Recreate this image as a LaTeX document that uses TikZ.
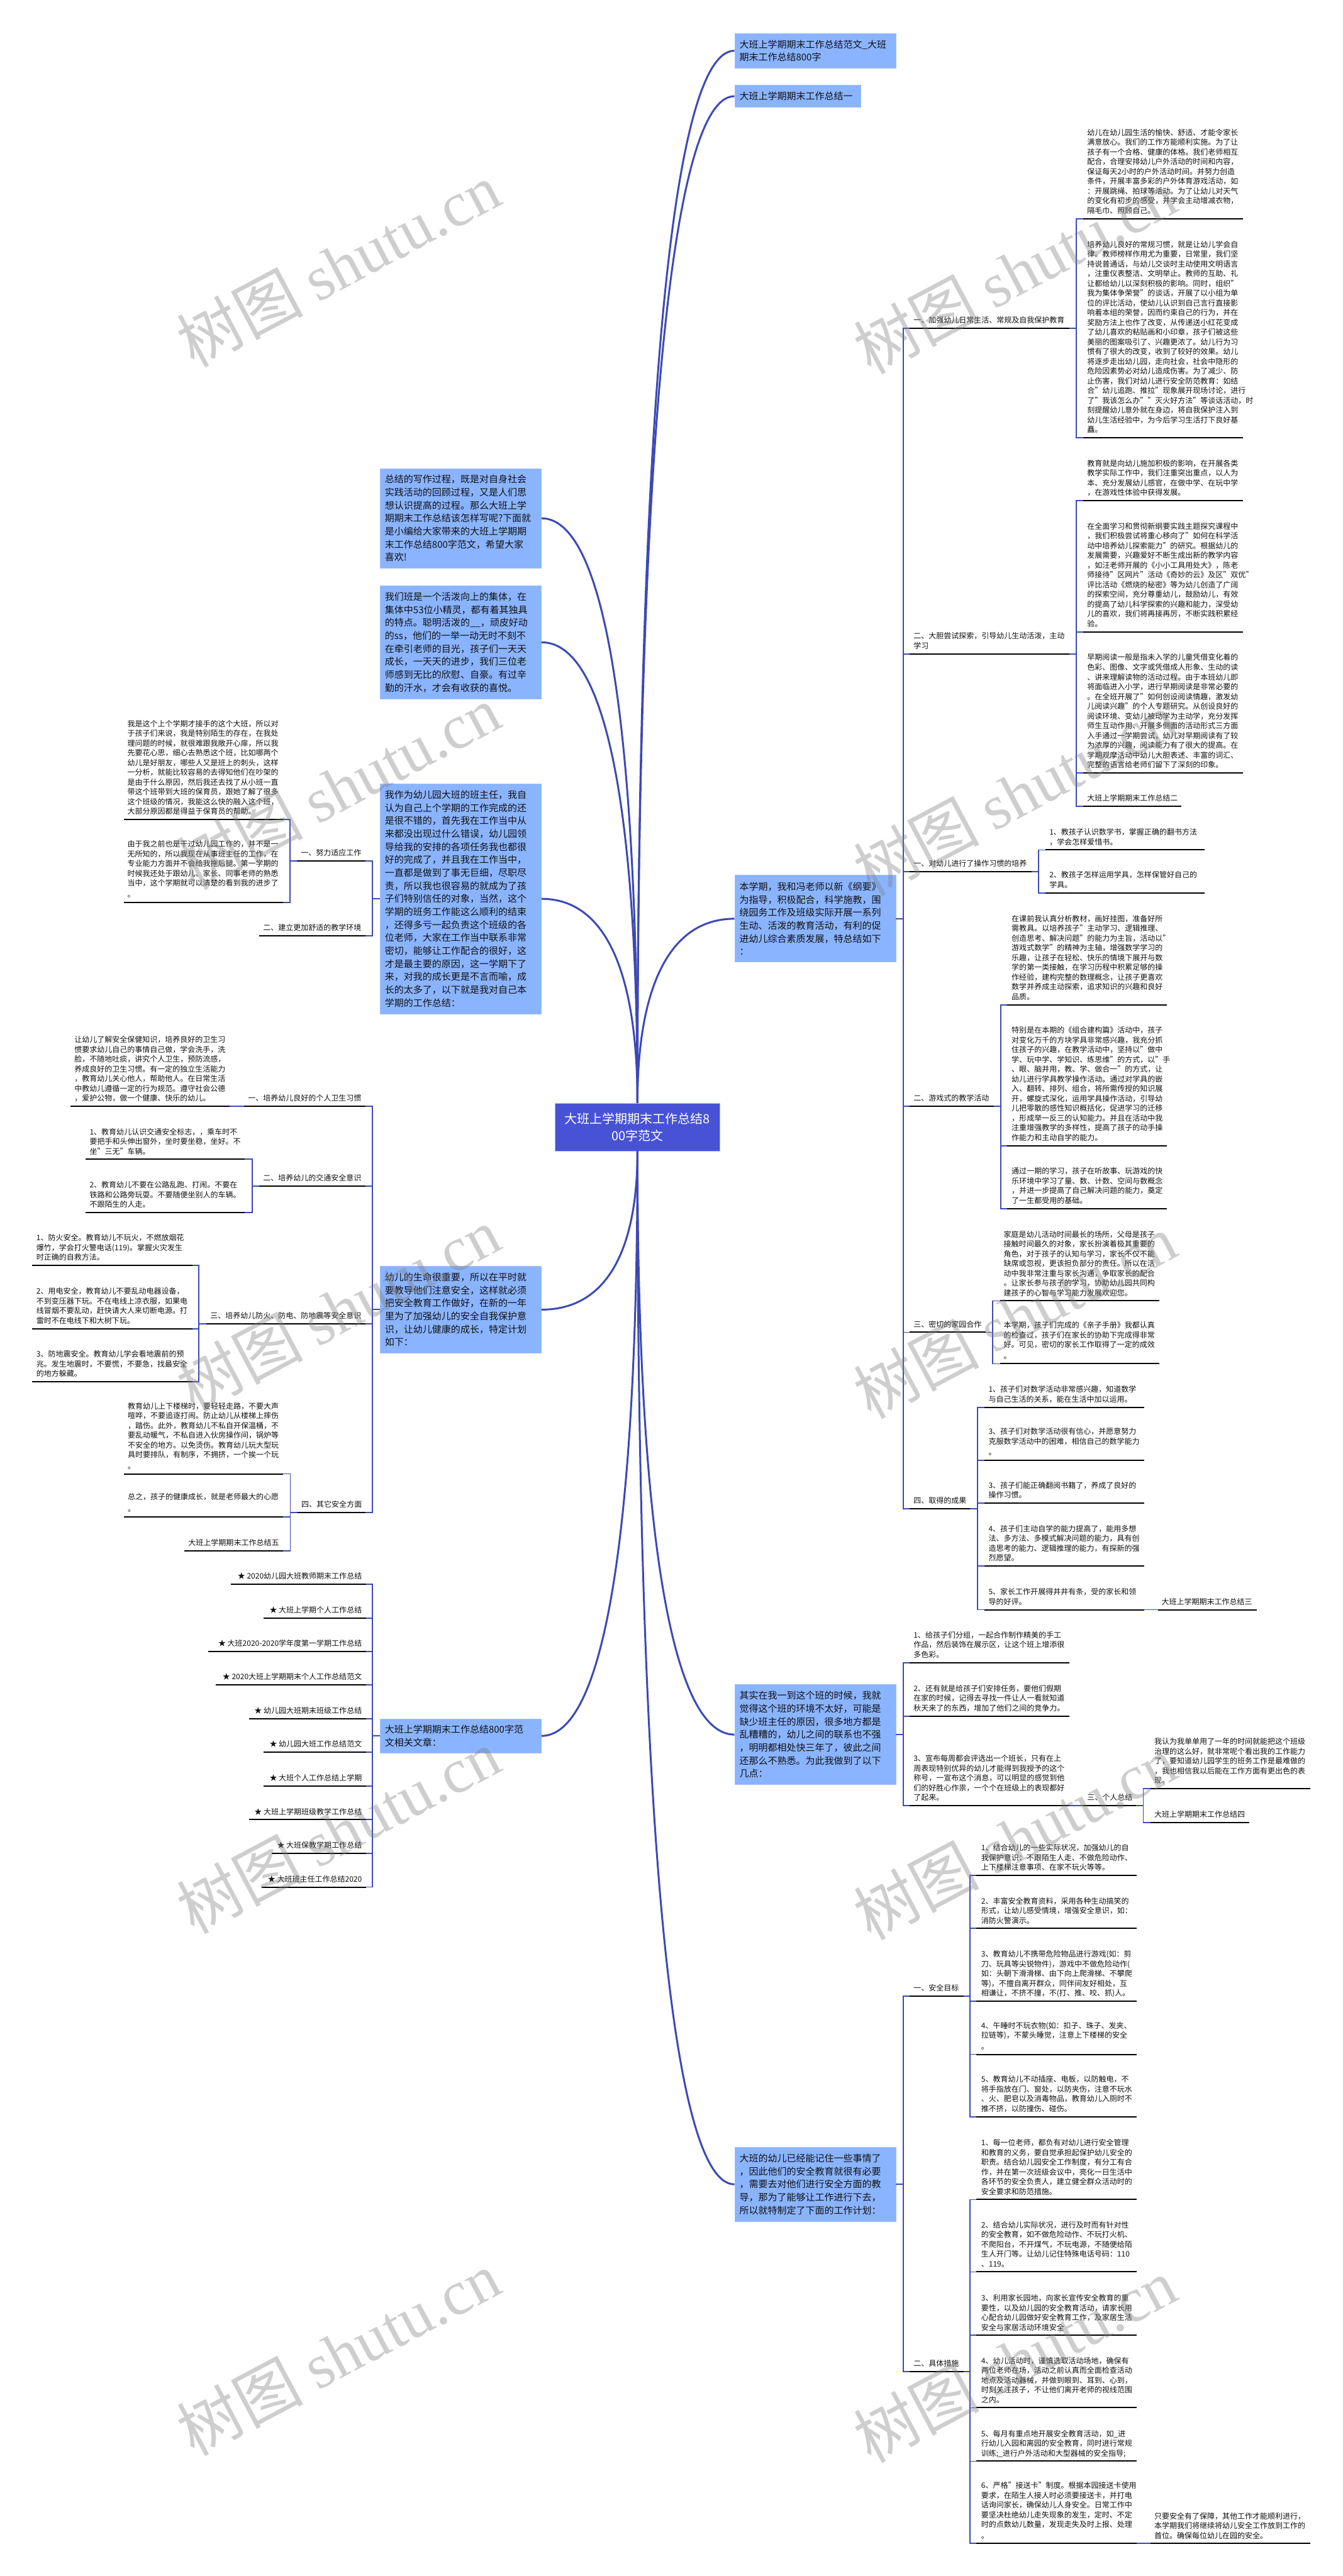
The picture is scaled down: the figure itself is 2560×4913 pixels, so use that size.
\documentclass[tikz,border=0pt]{standalone}
\usepackage{fontspec}
\setmainfont{Noto Sans CJK SC}
\newfontfamily\wmlat{Liberation Serif}
\definecolor{wireblue}{HTML}{3C49B5}
\definecolor{boxblue}{HTML}{8AB4FF}
\definecolor{boxedge}{HTML}{9DBFFA}
\definecolor{rootblue}{HTML}{4752D6}
\definecolor{inkc}{HTML}{111111}
\tikzset{
  leaf/.style={inner sep=0pt,outer sep=0pt,align=left,yshift=2.2pt,text=inkc,
    font=\fontsize{7.2pt}{9.3pt}\selectfont,execute at end node={\strut}},
  leafr/.style={leaf,align=right},
  rulel/.style={draw=black,line width=1.2pt},
  wire/.style={draw=wireblue,line width=1.1pt},
  curv/.style={draw=wireblue,line width=1.8pt},
  boxn/.style={draw=boxedge,line width=.5pt,fill=boxblue,text=inkc,anchor=north west,inner xsep=4.5pt,inner ysep=0pt,
    text width=144.5pt,align=left,font=\fontsize{9pt}{12.4pt}\selectfont},
  rootn/.style={draw=boxedge,line width=.5pt,fill=rootblue,text=white,inner sep=0pt,align=center,
    minimum width=157.5pt,minimum height=45.5pt,font=\fontsize{12pt}{16.5pt}\selectfont},
  wm/.style={text=gray,opacity=.38,rotate=28,inner sep=0pt,font=\fontsize{60pt}{60pt}\selectfont}
}
% name, xleft, xright, y of underline, x of text, text
\newcommand\MItem[6]{%
  \coordinate (#1-l) at (#2,#4);
  \coordinate (#1-r) at (#3,#4);
  \node[leaf,anchor=south west] (#1) at (#5,#4) {#6};
  \draw[rulel] (#1-l) -- (#1-r);
}
\newcommand\MItemR[6]{%
  \coordinate (#1-l) at (#2,#4);
  \coordinate (#1-r) at (#3,#4);
  \node[leafr,anchor=south east] (#1) at (#5,#4) {#6};
  \draw[rulel] (#1-l) -- (#1-r);
}
\begin{document}
\begin{tikzpicture}[x=.5pt,y=-.5pt]
\useasboundingbox[fill=white] (0,0) rectangle (2560,4913);

\node[rootn] (root) at (1215.5,2149.5) {大班上学期期末工作总结8\\00字范文};

\node[boxn,minimum height=33.25pt] (t1) at (1400.5,63) {大班上学期期末工作总结范文\_大班\\期末工作总结800字};
\node[boxn,minimum height=21pt,text width=111pt] (t2) at (1400.5,162) {大班上学期期末工作总结一};
\node[boxn,minimum height=82.75pt] (bA) at (1400.5,1669) {本学期，我和冯老师以新《纲要》\\为指导，积极配合，科学施教，围\\绕园务工作及班级实际开展一系列\\生动、活泼的教育活动，有利的促\\进幼儿综合素质发展，特总结如下\\：};
\node[boxn,minimum height=95.25pt] (bB) at (1400.5,3212.5) {其实在我一到这个班的时候，我就\\觉得这个班的环境不太好，可能是\\缺少班主任的原因，很多地方都是\\乱糟糟的，幼儿之间的联系也不强\\，明明都相处快三年了，彼此之间\\还那么不熟悉。为此我做到了以下\\几点：};
\node[boxn,minimum height=70.5pt] (bC) at (1400.5,4095) {大班的幼儿已经能记住一些事情了\\，因此他们的安全教育就很有必要\\，需要去对他们进行安全方面的教\\导，那为了能够让工作进行下去，\\所以就特制定了下面的工作计划：};

\node[boxn,minimum height=95pt] (la) at (724.5,893) {总结的写作过程，既是对自身社会\\实践活动的回顾过程，又是人们思\\想认识提高的过程。那么大班上学\\期期末工作总结该怎样写呢?下面就\\是小编给大家带来的大班上学期期\\末工作总结800字范文，希望大家\\喜欢!};
\node[boxn,minimum height=107.5pt] (lb) at (724.5,1117) {我们班是一个活泼向上的集体，在\\集体中53位小精灵，都有着其独具\\的特点。聪明活泼的\_\_，顽皮好动\\的ss，他们的一举一动无时不刻不\\在牵引老师的目光，孩子们一天天\\成长，一天天的进步，我们三位老\\师感到无比的欣慰、自豪。有过辛\\勤的汗水，才会有收获的喜悦。};
\node[boxn,minimum height=219.75pt] (bD) at (724.5,1494) {我作为幼儿园大班的班主任，我自\\认为自己上个学期的工作完成的还\\是很不错的，首先我在工作当中从\\来都没出现过什么错误，幼儿园领\\导给我的安排的各项任务我也都很\\好的完成了，并且我在工作当中，\\一直都是做到了事无巨细，尽职尽\\责，所以我也很容易的就成为了孩\\子们特别信任的对象，当然，这个\\学期的班务工作能这么顺利的结束\\，还得多亏一起负责这个班级的各\\位老师，大家在工作当中联系非常\\密切，能够让工作配合的很好，这\\才是最主要的原因，这一学期下了\\来，对我的成长更是不言而喻，成\\长的太多了，以下就是我对自己本\\学期的工作总结：};
\node[boxn,minimum height=82.75pt] (bE) at (724.5,2414.5) {幼儿的生命很重要，所以在平时就\\要教导他们注意安全，这样就必须\\把安全教育工作做好，在新的一年\\里为了加强幼儿的安全自我保护意\\识，让幼儿健康的成长，特定计划\\如下：};
\node[boxn,minimum height=32.75pt] (bF) at (724.5,3277.5) {大班上学期期末工作总结800字范\\文相关文章：};

% ---------- right: bA
\MItem{ra1}{1734}{2039}{626}{1742}{一、加强幼儿日常生活、常规及自我保护教育}
\MItem{a1}{2066}{2370}{417}{2073}{幼儿在幼儿园生活的愉快、舒适、才能令家长\\满意放心。我们的工作方能顺利实施。为了让\\孩子有一个合格、健康的体格。我们老师相互\\配合，合理安排幼儿户外活动的时间和内容，\\保证每天2小时的户外活动时间。并努力创造\\条件，开展丰富多彩的户外体育游戏活动，如\\：开展跳绳、拍球等活动。为了让幼儿对天气\\的变化有初步的感受，并学会主动增减衣物，\\隔毛巾、照顾自己。}
\MItem{a2}{2066}{2370}{835}{2073}{培养幼儿良好的常规习惯，就是让幼儿学会自\\律。教师榜样作用尤为重要，日常里，我们坚\\持说普通话，与幼儿交谈时主动使用文明语言\\，注重仪表整洁、文明举止。教师的互助、礼\\让都给幼儿以深刻积极的影响。同时，组织"\\我为集体争荣誉"的谈话，开展了以小组为单\\位的评比活动，使幼儿认识到自己言行直接影\\响着本组的荣誉，因而约束自己的行为，并在\\奖励方法上也作了改变，从传递送小红花变成\\了幼儿喜欢的粘贴画和小印章，孩子们被这些\\美丽的图案吸引了、兴趣更浓了。幼儿行为习\\惯有了很大的改变，收到了较好的效果。幼儿\\将逐步走出幼儿园，走向社会，社会中隐形的\\危险因素势必对幼儿造成伤害。为了减少、防\\止伤害，我们对幼儿进行安全防范教育：如结\\合"幼儿追跑、推拉"现象展开现场讨论，进行\\了"我该怎么办""灭火好方法"等谈话活动，时\\刻提醒幼儿意外就在身边，将自我保护注入到\\幼儿生活经验中，为今后学习生活打下良好基\\矗。}
\MItem{ra2}{1734}{2039}{1247}{1742}{二、大胆尝试探索，引导幼儿生动活泼，主动\\学习}
\MItem{a3}{2066}{2370}{955}{2073}{教育就是向幼儿施加积极的影响，在开展各类\\教学实际工作中，我们注重突出重点，以人为\\本、充分发展幼儿感官，在做中学、在玩中学\\，在游戏性体验中获得发展。}
\MItem{a4}{2066}{2370}{1205}{2073}{在全面学习和贯彻新纲要实践主题探究课程中\\，我们积极尝试将重心移向了"如何在科学活\\动中培养幼儿探索能力"的研究。根据幼儿的\\发展需要，兴趣爱好不断生成出新的教学内容\\，如汪老师开展的《小小工具用处大》，陈老\\师接待"区网片"活动《奇妙的云》及区"双优"\\评比活动《燃烧的秘密》等为幼儿创造了广阔\\的探索空间，充分尊重幼儿，鼓励幼儿，有效\\的提高了幼儿科学探索的兴趣和能力，深受幼\\儿的喜欢，我们将再接再厉，不断实践积累经\\验。}
\MItem{a5}{2066}{2370}{1474}{2073}{早期阅读一般是指未入学的儿童凭借变化着的\\色彩、图像、文字或凭借成人形象、生动的读\\、讲来理解读物的活动过程。由于本班幼儿即\\将面临进入小学，进行早期阅读是非常必要的\\。在全班开展了"如何创设阅读情趣，激发幼\\儿阅读兴趣"的个人专题研究。从创设良好的\\阅读环境、变幼儿被动学为主动学，充分发挥\\师生互动作用、开展多侧面的活动形式三方面\\入手通过一学期尝试，幼儿对早期阅读有了较\\为浓厚的兴趣，阅读能力有了很大的提高。在\\学期观摩活动中幼儿大胆表述、丰富的词汇、\\完整的语言给老师们留下了深刻的印象。}
\MItem{a6}{2066}{2253}{1538}{2073}{大班上学期期末工作总结二}
\MItem{ra3}{1734}{1967}{1662}{1742}{一、对幼儿进行了操作习惯的培养}
\MItem{b1}{1993}{2297}{1621}{2001}{1、教孩子认识数学书，掌握正确的翻书方法\\，学会怎样爱惜书。}
\MItem{b2}{1993}{2297}{1703}{2001}{2、教孩子怎样运用学具，怎样保管好自己的\\学具。}
\MItem{ra4}{1734}{1895}{2110}{1742}{二、游戏式的教学活动}
\MItem{c1}{1920}{2225}{1916.5}{1929}{在课前我认真分析教材，画好挂图，准备好所\\需教具。以培养孩子"主动学习、逻辑推理、\\创造思考、解决问题"的能力为主旨，活动以"\\游戏式数学"的精神为主轴，增强数学学习的\\乐趣，让孩子在轻松、快乐的情境下展开与数\\学的第一类接触，在学习历程中积累足够的操\\作经验，建构完整的数理概念，让孩子更喜欢\\数学并养成主动探索，追求知识的兴趣和良好\\品质。}
\MItem{c2}{1920}{2225}{2185}{1929}{特别是在本期的《组合建构篇》活动中，孩子\\对变化万千的方块学具非常感兴趣，我充分抓\\住孩子的兴趣，在教学活动中，坚持以"做中\\学、玩中学、学知识、练思维"的方式，以"手\\、眼、脑并用，教、学、做合一"的方式，让\\幼儿进行学具教学操作活动。通过对学具的嵌\\入、翻转、排列、组合，将所需传授的知识展\\开，螺旋式深化，运用学具操作活动，引导幼\\儿把零散的感性知识概括化，促进学习的迁移\\，形成举一反三的认知能力。并且在活动中我\\注重增强教学的多样性，提高了孩子的动手操\\作能力和主动自学的能力。}
\MItem{c3}{1920}{2225}{2305}{1929}{通过一期的学习，孩子在听故事、玩游戏的快\\乐环境中学习了量、数、计数、空间与数概念\\，并进一步提高了自己解决问题的能力，奠定\\了一生都受用的基础。}
\MItem{ra5}{1734}{1880}{2541}{1742}{三、密切的家园合作}
\MItem{d1}{1907}{2211}{2481}{1914}{家庭是幼儿活动时间最长的场所，父母是孩子\\接触时间最久的对象，家长扮演着极其重要的\\角色，对于孩子的认知与学习，家长不仅不能\\缺席或忽视，更该担负部分的责任。所以在活\\动中我非常注重与家长沟通，争取家长的配合\\。让家长参与孩子的学习，协助幼儿园共同构\\建孩子的心智与学习能力发展欢迎您。}
\MItem{d2}{1907}{2211}{2601}{1914}{本学期，孩子们完成的《亲子手册》我都认真\\的检查过，孩子们在家长的协助下完成得非常\\好。可见，密切的家长工作取得了一定的成效\\[1.2pt]。}
\MItem{ra6}{1734}{1850}{2877}{1742}{四、取得的成果}
\MItem{e1}{1877}{2182}{2684}{1885}{1、孩子们对数学活动非常感兴趣，知道数学\\与自己生活的关系，能在生活中加以运用。}
\MItem{e2}{1877}{2182}{2785}{1885}{3、孩子们对数学活动很有信心，并愿意努力\\克服数学活动中的困难，相信自己的数学能力\\[1.2pt]。}
\MItem{e3}{1877}{2182}{2867}{1885}{3、孩子们能正确翻阅书籍了，养成了良好的\\操作习惯。}
\MItem{e4}{1877}{2182}{2987}{1885}{4、孩子们主动自学的能力提高了，能用多想\\法、多方法、多模式解决问题的能力，具有创\\造思考的能力、逻辑推理的能力，有探新的强\\烈愿望。}
\MItem{e5}{1877}{2182}{3070}{1885}{5、家长工作开展得井井有条，受的家长和领\\导的好评。}
\MItem{e6}{2208}{2396}{3070}{2215}{大班上学期期末工作总结三}

\draw[wire] (bA.east) -- ++(13.5,0) |- (ra1-l);
\draw[wire] (bA.east) -- ++(13.5,0) |- (ra2-l);
\draw[wire] (bA.east) -- ++(13.5,0) |- (ra3-l);
\draw[wire] (bA.east) -- ++(13.5,0) |- (ra4-l);
\draw[wire] (bA.east) -- ++(13.5,0) |- (ra5-l);
\draw[wire] (bA.east) -- ++(13.5,0) |- (ra6-l);
\draw[wire] (ra1-r) -- ++(13,0) |- (a1-l);
\draw[wire] (ra1-r) -- ++(13,0) |- (a2-l);
\draw[wire] (ra2-r) -- ++(13,0) |- (a3-l);
\draw[wire] (ra2-r) -- ++(13,0) |- (a4-l);
\draw[wire] (ra2-r) -- ++(13,0) |- (a5-l);
\draw[wire] (ra2-r) -- ++(13,0) |- (a6-l);
\draw[wire] (ra3-r) -- ++(13,0) |- (b1-l);
\draw[wire] (ra3-r) -- ++(13,0) |- (b2-l);
\draw[wire] (ra4-r) -- ++(13,0) |- (c1-l);
\draw[wire] (ra4-r) -- ++(13,0) |- (c2-l);
\draw[wire] (ra4-r) -- ++(13,0) |- (c3-l);
\draw[wire] (ra5-r) -- ++(13,0) |- (d1-l);
\draw[wire] (ra5-r) -- ++(13,0) |- (d2-l);
\draw[wire] (ra6-r) -- ++(14,0) |- (e1-l);
\draw[wire] (ra6-r) -- ++(14,0) |- (e2-l);
\draw[wire] (ra6-r) -- ++(14,0) |- (e3-l);
\draw[wire] (ra6-r) -- ++(14,0) |- (e4-l);
\draw[wire] (ra6-r) -- ++(14,0) |- (e5-l);
\draw[wire] (e5-r) -- (e6-l);

% ---------- right: bB
\MItem{f1}{1734}{2039}{3171}{1742}{1、给孩子们分组，一起合作制作精美的手工\\作品，然后装饰在展示区，让这个班上增添很\\多色彩。}
\MItem{f2}{1734}{2039}{3273}{1742}{2、还有就是给孩子们安排任务，要他们假期\\在家的时候，记得去寻找一件让人一看就知道\\秋天来了的东西，增加了他们之间的竞争力。}
\MItem{f3}{1734}{2039}{3444}{1742}{3、宣布每周都会评选出一个班长，只有在上\\周表现特别优异的幼儿才能得到我授予的这个\\称号，一宣布这个消息，可以明显的感觉到他\\们的好胜心作祟，一个个在班级上的表现都好\\了起来。}
\MItem{g0}{2066}{2166}{3444}{2073}{三、个人总结}
\MItem{g1}{2194}{2498}{3411.5}{2201}{我认为我单单用了一年的时间就能把这个班级\\治理的这么好，就非常呢个看出我的工作能力\\了，要知道幼儿园学生的班务工作是最难做的\\，我也相信我以后能在工作方面有更出色的表\\现。}
\MItem{g2}{2194}{2382}{3476}{2201}{大班上学期期末工作总结四}
\draw[wire] (bB.east) -- ++(13.5,0) |- (f1-l);
\draw[wire] (bB.east) -- ++(13.5,0) |- (f2-l);
\draw[wire] (bB.east) -- ++(13.5,0) |- (f3-l);
\draw[wire] (f3-r) -- (g0-l);
\draw[wire] (g0-r) -- ++(14,0) |- (g1-l);
\draw[wire] (g0-r) -- ++(14,0) |- (g2-l);

% ---------- right: bC
\MItem{h1}{1734}{1837}{3807}{1742}{一、安全目标}
\MItem{h1a}{1862}{2167}{3577}{1871}{1、结合幼儿的一些实际状况，加强幼儿的自\\我保护意识：不跟陌生人走、不做危险动作、\\上下楼梯注意事项、在家不玩火等等。}
\MItem{h1b}{1862}{2167}{3678}{1871}{2、丰富安全教育资料，采用各种生动搞笑的\\形式，让幼儿感受情境，增强安全意识，如：\\消防火警演示。}
\MItem{h1c}{1862}{2167}{3817}{1871}{3、教育幼儿不携带危险物品进行游戏(如：剪\\刀、玩具等尖锐物件)，游戏中不做危险动作(\\如：头朝下滑滑梯、由下向上爬滑梯、不攀爬\\等)，不擅自离开群众，同伴间友好相处，互\\相谦让，不挤不撞，不(打、推、咬、抓)人。}
\MItem{h1d}{1862}{2167}{3918}{1871}{4、午睡时不玩衣物(如：扣子、珠子、发夹、\\拉链等)，不蒙头睡觉，注意上下楼梯的安全\\[1.2pt]。}
\MItem{h1e}{1862}{2167}{4037}{1871}{5、教育幼儿不动插座、电板，以防触电，不\\将手指放在门、窗处，以防夹伤，注意不玩水\\、火、肥皂以及消毒物品，教育幼儿入厕时不\\推不挤，以防撞伤、碰伤。}
\MItem{h2}{1734}{1837}{4523}{1742}{二、具体措施}
\MItem{h2a}{1862}{2167}{4195}{1871}{1、每一位老师，都负有对幼儿进行安全管理\\和教育的义务，要自觉承担起保护幼儿安全的\\职责。结合幼儿园安全工作制度，有分工有合\\作，并在第一次班级会议中，亮化一日生活中\\各环节的安全负责人，建立健全群众活动时的\\安全要求和防范措施。}
\MItem{h2b}{1862}{2167}{4333}{1871}{2、结合幼儿实际状况，进行及时而有针对性\\的安全教育，如不做危险动作、不玩打火机、\\不爬阳台，不开煤气，不玩电源，不随便给陌\\生人开门等。让幼儿记住特殊电话号码：110\\、119。}
\MItem{h2c}{1862}{2167}{4454}{1871}{3、利用家长园地，向家长宣传安全教育的重\\要性，以及幼儿园的安全教育活动，请家长用\\心配合幼儿园做好安全教育工作，及家居生活\\安全与家居活动环境安全}
\MItem{h2d}{1862}{2167}{4592}{1871}{4、幼儿活动时，谨慎选取活动场地，确保有\\两位老师在场，活动之前认真而全面检查活动\\地点及活动器械，并做到眼到、耳到、心到，\\时刻关注孩子，不让他们离开老师的视线范围\\之内。}
\MItem{h2e}{1862}{2167}{4694}{1871}{5、每月有重点地开展安全教育活动，如\_进\\行幼儿入园和离园的安全教育，同时进行常规\\训练;\_进行户外活动和大型器械的安全指导;}
\MItem{h2f}{1862}{2167}{4851}{1871}{6、严格"接送卡"制度。根据本园接送卡使用\\要求，在陌生人接人时必须要接送卡，并打电\\话询问家长，确保幼儿人身安全。日常工作中\\要坚决杜绝幼儿走失现象的发生，定时、不定\\时的点数幼儿数量，发现走失及时上报、处理\\[1.2pt]。}
\MItem{h2g}{2194}{2498}{4851}{2201}{只要安全有了保障，其他工作才能顺利进行，\\本学期我们将继续将幼儿安全工作放到工作的\\首位。确保每位幼儿在园的安全。}
\draw[wire] (bC.east) -- ++(13.5,0) |- (h1-l);
\draw[wire] (bC.east) -- ++(13.5,0) |- (h2-l);
\draw[wire] (h1-r) -- ++(13,0) |- (h1a-l);
\draw[wire] (h1-r) -- ++(13,0) |- (h1b-l);
\draw[wire] (h1-r) -- ++(13,0) |- (h1c-l);
\draw[wire] (h1-r) -- ++(13,0) |- (h1d-l);
\draw[wire] (h1-r) -- ++(13,0) |- (h1e-l);
\draw[wire] (h2-r) -- ++(13,0) |- (h2a-l);
\draw[wire] (h2-r) -- ++(13,0) |- (h2b-l);
\draw[wire] (h2-r) -- ++(13,0) |- (h2c-l);
\draw[wire] (h2-r) -- ++(13,0) |- (h2d-l);
\draw[wire] (h2-r) -- ++(13,0) |- (h2e-l);
\draw[wire] (h2-r) -- ++(13,0) |- (h2f-l);
\draw[wire] (h2f-r) -- (h2g-l);

% ---------- left: bD
\MItemR{m1}{566.5}{697}{1642}{689}{一、努力适应工作}
\MItemR{m2}{494}{697}{1785}{689}{二、建立更加舒适的教学环境}
\MItem{m1a}{236}{540}{1563}{243}{我是这个上个学期才接手的这个大班，所以对\\于孩子们来说，我是特别陌生的存在，在我处\\理问题的时候，就很难跟我敞开心扉，所以我\\先要花心思，细心去熟悉这个班，比如哪两个\\幼儿是好朋友，哪些人又是班上的刺头，这样\\一分析，就能比较容易的去得知他们在吵架的\\是由于什么原因，然后我还去找了从小班一直\\带这个班带到大班的保育员，跟她了解了很多\\这个班级的情况，我能这么快的融入这个班，\\大部分原因都是得益于保育员的帮助。}
\MItem{m1b}{236}{540}{1721}{243}{由于我之前也是干过幼儿园工作的，并不是一\\无所知的，所以我现在从事班主任的工作，在\\专业能力方面并不会给我拖后腿。第一学期的\\时候我还处于跟幼儿、家长、同事老师的熟悉\\当中，这个学期就可以清楚的看到我的进步了\\[1.2pt]。}
\draw[wire] (bD.west) -- ++(-14,0) |- (m1-r);
\draw[wire] (bD.west) -- ++(-14,0) |- (m2-r);
\draw[wire] (m1-l) -- ++(-13.5,0) |- (m1a-r);
\draw[wire] (m1-l) -- ++(-13.5,0) |- (m1b-r);

% ---------- left: bE
\MItemR{n1}{465}{697}{2110}{689}{一、培养幼儿良好的个人卫生习惯}
\MItem{n1a}{134}{438}{2110}{142}{让幼儿了解安全保健知识，培养良好的卫生习\\惯要求幼儿自己的事情自己做，学会洗手，洗\\脸，不随地吐痰，讲究个人卫生，预防流感，\\养成良好的卫生习惯。有一定的独立生活能力\\，教育幼儿关心他人，帮助他人。在日常生活\\中教幼儿遵循一定的行为规范。遵守社会公德\\，爱护公物，做一个健康、快乐的幼儿。}
\MItemR{n2}{494}{697}{2262}{689}{二、培养幼儿的交通安全意识}
\MItem{n2a}{163}{467}{2211}{171}{1、教育幼儿认识交通安全标志，，乘车时不\\要把手和头伸出窗外，坐时要坐稳，坐好。不\\坐"三无"车辆。}
\MItem{n2b}{163}{467}{2312.6}{171}{2、教育幼儿不要在公路乱跑、打闹。不要在\\铁路和公路旁玩耍。不要随便坐别人的车辆。\\不跟陌生的人走。}
\MItemR{n3}{393}{697}{2524.5}{689}{三、培养幼儿防火、防电、防地震等安全意识}
\MItem{n3a}{61.5}{366.5}{2413.6}{69.5}{1、防火安全。教育幼儿不玩火，不燃放烟花\\爆竹，学会打火警电话(119)。掌握火灾发生\\时正确的自救方法。}
\MItem{n3b}{61.5}{366.5}{2534}{69.5}{2、用电安全，教育幼儿不要乱动电器设备，\\不到变压器下玩。不在电线上凉衣服，如果电\\线冒烟不要乱动，赶快请大人来切断电源。打\\雷时不在电线下和大树下玩。}
\MItem{n3c}{61.5}{366.5}{2635}{69.5}{3、防地震安全。教育幼儿学会看地震前的预\\兆。发生地震时，不要慌，不要急，找最安全\\的地方躲藏。}
\MItemR{n4}{567}{697}{2885}{690}{四、其它安全方面}
\MItem{n4a}{236}{540}{2811}{243.5}{教育幼儿上下楼梯时，要轻轻走路，不要大声\\喧哗，不要追逐打闹。防止幼儿从楼梯上摔伤\\，踏伤。此外，教育幼儿不私自开保温桶，不\\要乱动暖气，不私自进入伙房操作间，锅炉等\\不安全的地方。以免烫伤。教育幼儿玩大型玩\\具时要排队，有制序，不拥挤，一个挨一个玩\\[1.2pt]。}
\MItem{n4b}{236}{540}{2893}{243.5}{总之，孩子的健康成长，就是老师最大的心愿\\[2pt]。}
\MItemR{n4c}{352}{540}{2957.5}{532}{大班上学期期末工作总结五}
\draw[wire] (bE.west) -- ++(-14,0) |- (n1-r);
\draw[wire] (bE.west) -- ++(-14,0) |- (n2-r);
\draw[wire] (bE.west) -- ++(-14,0) |- (n3-r);
\draw[wire] (bE.west) -- ++(-14,0) |- (n4-r);
\draw[wire] (n1-l) -- (n1a-r);
\draw[wire] (n2-l) -- ++(-13,0) |- (n2a-r);
\draw[wire] (n2-l) -- ++(-13,0) |- (n2b-r);
\draw[wire] (n3-l) -- ++(-13.5,0) |- (n3a-r);
\draw[wire] (n3-l) -- ++(-13.5,0) |- (n3b-r);
\draw[wire] (n3-l) -- ++(-13.5,0) |- (n3c-r);
\draw[wire] (n4-l) -- ++(-13.5,0) |- (n4a-r);
\draw[wire] (n4-l) -- ++(-13.5,0) |- (n4b-r);
\draw[wire] (n4-l) -- ++(-13.5,0) |- (n4c-r);

% ---------- left: bF
\MItemR{p1}{440}{697.5}{3021.6}{690}{★ 2020幼儿园大班教师期末工作总结}
\MItemR{p2}{503}{697.5}{3086}{690}{★ 大班上学期个人工作总结}
\MItemR{p3}{397}{697.5}{3149.5}{690}{★ 大班2020-2020学年度第一学期工作总结}
\MItemR{p4}{411}{697.5}{3213.7}{690}{★ 2020大班上学期期末个人工作总结范文}
\MItemR{p5}{475}{697.5}{3278}{690}{★ 幼儿园大班期末班级工作总结}
\MItemR{p6}{503}{697.5}{3342}{690}{★ 幼儿园大班工作总结范文}
\MItemR{p7}{503}{697.5}{3406}{690}{★ 大班个人工作总结上学期}
\MItemR{p8}{475}{697.5}{3470.5}{690}{★ 大班上学期班级教学工作总结}
\MItemR{p9}{518}{697.5}{3534.6}{690}{★ 大班保教学期工作总结}
\MItemR{p10}{499}{697.5}{3599}{690}{★ 大班班主任工作总结2020}
\draw[wire] (bF.west) -- ++(-14,0) |- (p1-r);
\draw[wire] (bF.west) -- ++(-14,0) |- (p2-r);
\draw[wire] (bF.west) -- ++(-14,0) |- (p3-r);
\draw[wire] (bF.west) -- ++(-14,0) |- (p4-r);
\draw[wire] (bF.west) -- ++(-14,0) |- (p5-r);
\draw[wire] (bF.west) -- ++(-14,0) |- (p6-r);
\draw[wire] (bF.west) -- ++(-14,0) |- (p7-r);
\draw[wire] (bF.west) -- ++(-14,0) |- (p8-r);
\draw[wire] (bF.west) -- ++(-14,0) |- (p9-r);
\draw[wire] (bF.west) -- ++(-14,0) |- (p10-r);

% ---------- curves from the root
\draw[curv] (root.north) .. controls +(0,-1205) and +(-129,0) .. (t1.west);
\draw[curv] (root.north) .. controls +(0,-1153) and +(-129,0) .. (t2.west);
\draw[curv] (root.north) .. controls +(0,-211) and +(-129,0) .. (bA.west);
\draw[curv] (root.north) .. controls +(0,-670) and +(129,0) .. (la.east);
\draw[curv] (root.north) .. controls +(0,-528) and +(129,0) .. (lb.east);
\draw[curv] (root.north) .. controls +(0,-234) and +(129,0) .. (bD.east);
\draw[curv] (root.south) .. controls +(0,181) and +(129,0) .. (bE.east);
\draw[curv] (root.south) .. controls +(0,668) and +(129,0) .. (bF.east);
\draw[curv] (root.south) .. controls +(0,668) and +(-129,0) .. (bB.west);
\draw[curv] (root.south) .. controls +(0,1182) and +(-129,0) .. (bC.west);

% ---------- watermark
\foreach \wy [count=\wi] in {518,1514,2510,3505,4501}{
  \node[wm] (wr\wi) at (1935,\wy) {树图 {\wmlat shutu.cn}};
  \node[wm] (wl\wi) at (645,\wy-13) {树图 {\wmlat shutu.cn}};
}
\end{tikzpicture}
\end{document}
